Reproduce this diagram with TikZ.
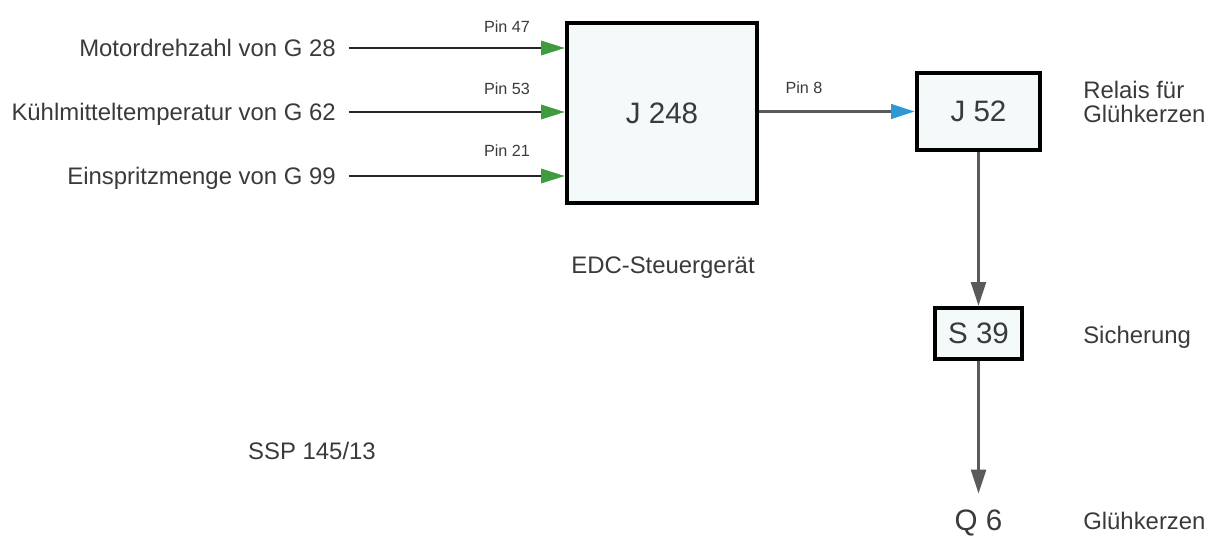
\documentclass[tikz,border=0pt]{standalone}
\usepackage{fontspec}
\setmainfont{Liberation Sans}
\usepackage{tikz}
\usetikzlibrary{arrows.meta, positioning}

\definecolor{txtgray}{HTML}{3A3A3A}
\definecolor{linegray}{HTML}{5A5A5A}
\definecolor{pingreen}{HTML}{3E9B3E}
\definecolor{pinblue}{HTML}{2C9AD2}
\definecolor{boxfill}{HTML}{F4FAFA}

\begin{document}
\begin{tikzpicture}[x=0.025cm, y=-0.025cm, >=latex,
		txt/.style={text=txtgray, font=\fontsize{17}{17}\selectfont, inner sep=0pt},
		pinlbl/.style={text=txtgray, font=\fontsize{11.5}{12}\selectfont, inner sep=0pt},
		sig/.style={text=txtgray, font=\fontsize{17}{17}\selectfont, inner sep=0pt, anchor=east, text height=12.2pt, text depth=0pt},
		ecu/.style={draw=black, line width=2.8pt, fill=boxfill, text=txtgray, font=\fontsize{21}{21}\selectfont},
		inarrow/.style={line width=2.1pt, draw=black!85, shorten <=9pt, -{Triangle[length=17pt, width=10pt, color=pingreen]}},
		outarrow/.style={line width=2.8pt, draw=linegray, -{Triangle[length=17pt, width=10pt, color=pinblue]}},
		vline/.style={line width=2.2pt, draw=linegray, -{Triangle[length=17pt, width=10.5pt, color=linegray]}}]
		
		\useasboundingbox (0,0) rectangle (1208,535);
		
		% Steuergerät J 248
		\node[ecu, minimum width=4.75cm, minimum height=4.5cm] (j248) at (662,113) {J 248};
		\node[txt] (edc) at (663,268) {EDC-Steuergerät};
		
		% Eingangssignale
		\node[sig] (g28) at (336,48) {Motordrehzahl von G 28};
		\node[sig] (g62) at (336,112) {Kühlmitteltemperatur von G 62};
		\node[sig] (g99) at (336,176) {Einspritzmenge von G 99};
		
		\draw[inarrow] (g28.east) -- (g28.east -| j248.west);
		\draw[inarrow] (g62.east) -- (g62.east -| j248.west);
		\draw[inarrow] (g99.east) -- (g99.east -| j248.west);
		
		\node[pinlbl] (pin47) at (507,27) {Pin 47};
		\node[pinlbl] (pin53) at (507,89) {Pin 53};
		\node[pinlbl] (pin21) at (507,151) {Pin 21};
		
		% Relais J 52
		\node[ecu, minimum width=3.075cm, minimum height=1.925cm] (j52) at (978.5,111.5) {J 52};
		\node[txt, anchor=west, align=left] (relais) at (1083,102) {Relais für\\Glühkerzen};
		
		\draw[outarrow] (j248.east |- j52) -- (j52.west);
		\node[pinlbl] (pin8) at (804,88) {Pin 8};
		
		% Sicherung S 39
		\node[ecu, minimum width=2.175cm, minimum height=1.275cm] (s39) at (978.5,333.5) {S 39};
		\node[txt, anchor=west] (sich) at (1083,337) {Sicherung};
		
		\draw[vline] (j52) -- (s39);
		
		% Glühkerzen Q 6
		\node[txt, font=\fontsize{21}{21}\selectfont, anchor=base] (q6) at (978.5,530) {Q 6};
		\node[txt, anchor=base west] (gk) at (1083,529) {Glühkerzen};
		
		\draw[vline, shorten >=11pt] (s39) -- (q6);
		
		% Bildnummer
		\node[txt] (ssp) at (312,451) {SSP 145/13};
		
	\end{tikzpicture}
\end{document}
